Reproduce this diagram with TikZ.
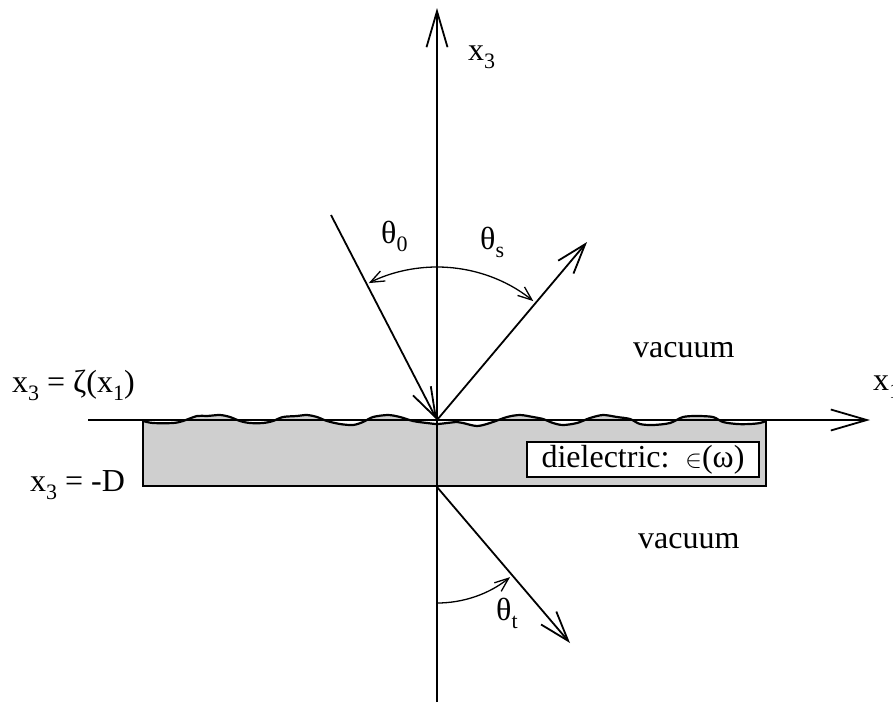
\documentclass[tikz,border=0pt]{standalone}
\usepackage{fontspec}
\setmainfont{Liberation Serif}
\usetikzlibrary{arrows.meta}
\newcommand\sbs[1]{\raisebox{-0.28em}{\fontsize{22}{24}\selectfont #1}}
\begin{document}
\begin{tikzpicture}[x=1pt,y=-1pt,
  lbl/.style={font=\fontsize{32}{38}\selectfont, inner sep=0pt, anchor=base west},
  axisline/.style={line width=1.8pt, -{Straight Barb[length=36pt,width=21pt,line width=1.8pt]}},
  rayline/.style={line width=1.8pt, -{Straight Barb[length=30pt,width=20pt,line width=1.8pt]}},
  angarc/.style={line width=1.3pt, -{Straight Barb[length=14pt,width=11pt,line width=1.3pt]}},
  slabfill/.style={fill=black!19},
  slabedge/.style={line width=1.5pt},
  surf/.style={line width=2.2pt, line join=round}]
\useasboundingbox (0,0) rectangle (893,702);

% key points
\coordinate (O) at (437,420);
\coordinate (Ob) at (437,487);
\coordinate (xl) at (88,420);
\coordinate (xr) at (870,420);
\coordinate (zt) at (437,8);
\coordinate (zb) at (437,702);
\coordinate (inc) at (331,215);
\coordinate (sc) at (587,242);
\coordinate (tr) at (570,643);
\coordinate (sl) at (143,486);
\coordinate (sr) at (766,486);

% dielectric slab with rough top
\fill[slabfill] plot[smooth] coordinates {(143,421) (153,423) (173,423) (183,421) (197,416) (207,416) (220,415) (230,417) (240,421) (250,423) (263,423) (273,421) (283,417) (297,416) (307,415) (317,417) (327,421) (340,424) (353,425) (363,422) (373,417) (388,415) (400,417) (413,421) (427,423) (437,424) (447,423) (457,422) (463,423) (477,426) (490,423) (507,417) (520,415) (533,417) (543,419) (553,423) (563,425) (577,423) (590,418) (603,415) (617,417) (630,419) (640,424) (653,425) (670,423) (683,417) (697,416) (713,417) (723,422) (737,424) (750,424) (760,423) (766,421)} -- (sr) -- (sl) -- cycle;
\draw[slabedge] (143,420) -- (sl) -- (sr) -- (766,420);
\draw[surf] plot[smooth] coordinates {(143,421) (153,423) (173,423) (183,421) (197,416) (207,416) (220,415) (230,417) (240,421) (250,423) (263,423) (273,421) (283,417) (297,416) (307,415) (317,417) (327,421) (340,424) (353,425) (363,422) (373,417) (388,415) (400,417) (413,421) (427,423) (437,424) (447,423) (457,422) (463,423) (477,426) (490,423) (507,417) (520,415) (533,417) (543,419) (553,423) (563,425) (577,423) (590,418) (603,415) (617,417) (630,419) (640,424) (653,425) (670,423) (683,417) (697,416) (713,417) (723,422) (737,424) (750,424) (760,423) (766,421)};

% dielectric label box
\node[draw, line width=1.3pt, fill=white, minimum width=232pt, minimum height=35pt, inner sep=0pt,
      font=\fontsize{32}{36}\selectfont] (diel) at (643,459.5) {dielectric:\ \ $\in$(ω)};

% axes
\draw[axisline] (xl) -- (xr);
\draw[axisline] (zb) -- (zt);

% rays
\draw[rayline] (inc) -- (O);
\draw[rayline] (O) -- (sc);
\draw[rayline] (Ob) -- (tr);

% angle arcs
\draw[angarc] (437,267) arc[start angle=-90, end angle=-116.5, radius=153];
\draw[angarc] (437,267) arc[start angle=-90, end angle=-51, radius=153];
\draw[angarc] (437,603) arc[start angle=90, end angle=51, radius=116];

% labels
\node[lbl] (lx3) at (468,60) {x\sbs{3}};
\node[lbl] (lx1) at (873,390) {x\sbs{1}};
\node[lbl] (lsurf) at (12,392) {x\sbs{3} = ζ(x\sbs{1})};
\node[lbl] (lD) at (30,491) {x\sbs{3} = -D};
\node[lbl] (vac1) at (633,357) {vacuum};
\node[lbl] (vac2) at (638,548) {vacuum};
\node[lbl] (t0) at (381,243) {θ\sbs{0}};
\node[lbl] (ts) at (480,249) {θ\sbs{s}};
\node[lbl] (tt) at (496,620) {θ\sbs{t}};
\end{tikzpicture}
\end{document}
